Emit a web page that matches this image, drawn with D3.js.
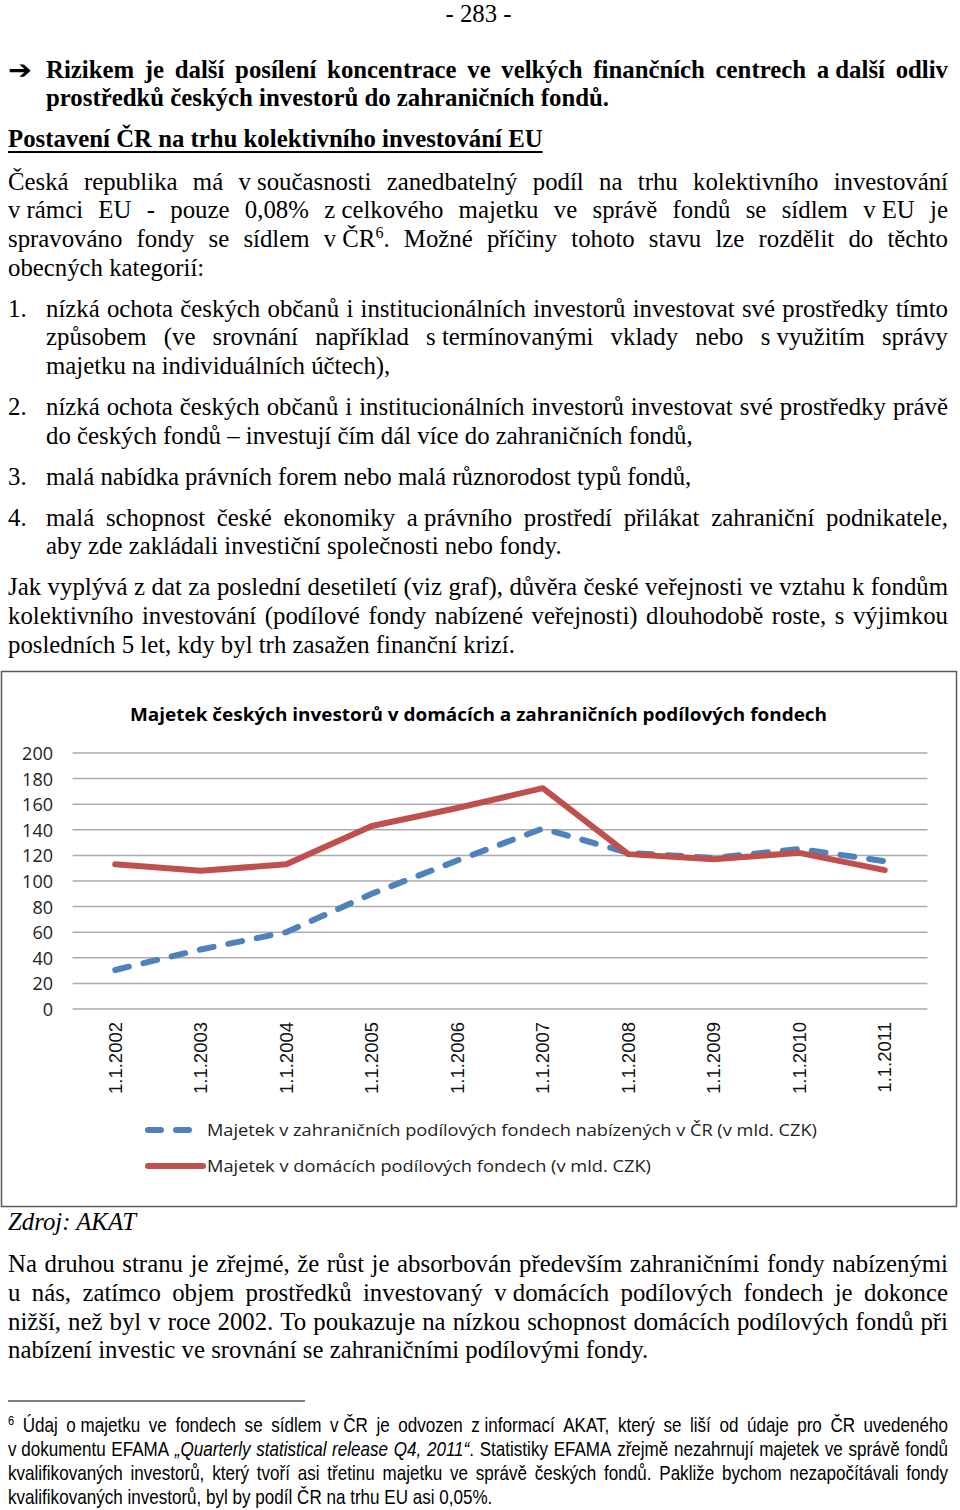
<!DOCTYPE html>
<html><head><meta charset="utf-8">
<script src="https://cdn.jsdelivr.net/npm/d3@7/dist/d3.min.js"></script>
<style>html,body{margin:0;padding:0;background:#fff;}svg{display:block;}</style>
</head><body>
<script>
// ---------- chart data ----------
const categories = ['1.1.2002','1.1.2003','1.1.2004','1.1.2005','1.1.2006','1.1.2007','1.1.2008','1.1.2009','1.1.2010','1.1.2011'];
const foreignFunds = [30.5, 46.5, 60, 90, 116, 141, 122, 118, 125, 115.5];
const domesticFunds = [113, 108, 113, 143, 157, 172.5, 121, 117, 122, 108.5];
const yTicks = [0, 20, 40, 60, 80, 100, 120, 140, 160, 180, 200];
const seriesNames = ['Majetek v zahraničních podílových fondech nabízených v ČR (v mld. CZK)', 'Majetek v domácích podílových fondech (v mld. CZK)'];
const chartTitle = 'Majetek českých investorů v domácích a zahraničních podílových fondech';

// ---------- page text ----------
const pageNumber = '- 283 -';
const boldLines = ['Rizikem je další posílení koncentrace ve velkých finančních centrech a~další odliv', 'prostředků českých investorů do zahraničních fondů.'];
const heading = 'Postavení ČR na trhu kolektivního investování EU';
const para1 = ['Česká republika má v~současnosti zanedbatelný podíl na trhu kolektivního investování',
  'v~rámci EU - pouze 0,08% z~celkového majetku ve správě fondů se sídlem v~EU je',
  'spravováno fondy se sídlem v~ČR^6^. Možné příčiny tohoto stavu lze rozdělit do těchto',
  'obecných kategorií:'];
const listItems = [
  ['nízká ochota českých občanů i institucionálních investorů investovat své prostředky tímto',
   'způsobem (ve srovnání například s~termínovanými vklady nebo s~využitím správy',
   'majetku na individuálních účtech),'],
  ['nízká ochota českých občanů i institucionálních investorů investovat své prostředky právě',
   'do českých fondů – investují čím dál více do zahraničních fondů,'],
  ['malá nabídka právních forem nebo malá různorodost typů fondů,'],
  ['malá schopnost české ekonomiky a~právního prostředí přilákat zahraniční podnikatele,',
   'aby zde zakládali investiční společnosti nebo fondy.']];
const para2 = ['Jak vyplývá z dat za poslední desetiletí (viz graf), důvěra české veřejnosti ve vztahu k fondům',
  'kolektivního investování (podílové fondy nabízené veřejnosti) dlouhodobě roste, s výjimkou',
  'posledních 5 let, kdy byl trh zasažen finanční krizí.'];
const sourceText = 'Zdroj: AKAT';
const para3 = ['Na druhou stranu je zřejmé, že růst je absorbován především zahraničními fondy nabízenými',
  'u nás, zatímco objem prostředků investovaný v~domácích podílových fondech je dokonce',
  'nižší, než byl v roce 2002. To poukazuje na nízkou schopnost domácích podílových fondů při',
  'nabízení investic ve srovnání se zahraničními podílovými fondy.'];
const footnote = ['^6^ Údaj o~majetku ve fondech se sídlem v~ČR je odvozen z~informací AKAT, který se liší od údaje pro ČR uvedeného',
  'v~dokumentu EFAMA *„Quarterly statistical release Q4, 2011“*. Statistiky EFAMA zřejmě nezahrnují majetek ve správě fondů',
  'kvalifikovaných investorů, který tvoří asi třetinu majetku ve správě českých fondů. Pakliže bychom nezapočítávali fondy',
  'kvalifikovaných investorů, byl by podíl ČR na trhu EU asi 0,05%.'];

const W = 960, H = 1510;
const svg = d3.select('body').append('svg').attr('width', W).attr('height', H);
svg.append('rect').attr('width', W).attr('height', H).attr('fill', '#fff');

const serif = {family: '"Liberation Serif","Times New Roman",serif', size: 24.8, weight: 'normal'};
const serifB = {family: '"Liberation Serif","Times New Roman",serif', size: 24.8, weight: 'bold'};
const narrow = {family: '"Liberation Sans",Arial,sans-serif', size: 20.8, weight: 'normal'};

function parseTokens(str) {
  let it = false, sup = false;
  return str.split(' ').map(tok => {
    const segs = []; let cur = '';
    for (const ch of tok) {
      if (ch === '*' || ch === '^') {
        if (cur) { segs.push({t: cur, it, sup}); cur = ''; }
        if (ch === '*') it = !it; else sup = !sup;
      } else cur += (ch === '~' ? '\u00a0' : ch);
    }
    if (cur) segs.push({t: cur, it, sup});
    return segs;
  });
}
function makeText(g, segs, st) {
  const t = g.append('text').attr('font-family', st.family).attr('font-size', st.size)
    .attr('font-weight', st.weight).attr('fill', '#000');
  let raised = false;
  segs.forEach(s => {
    const ts = t.append('tspan').text(s.t).attr('font-style', s.it ? 'italic' : null);
    if (s.sup) { ts.attr('font-size', st.size * 0.65); if (!raised) { ts.attr('dy', -st.size * 0.36); raised = true; } }
    else if (raised) { ts.attr('dy', st.size * 0.36); raised = false; }
  });
  return t;
}
const spaceCache = {};
function spaceW(g, st) {
  const k = st.family + st.size + st.weight;
  if (spaceCache[k] == null) {
    const a = makeText(g, [{t: 'n n'}], st), b = makeText(g, [{t: 'nn'}], st);
    spaceCache[k] = a.node().getComputedTextLength() - b.node().getComputedTextLength();
    a.remove(); b.remove();
  }
  return spaceCache[k];
}
function layLine(g, str, x0, x1, y, st, justify) {
  const toks = parseTokens(str);
  const els = toks.map(s => makeText(g, s, st));
  const ws = els.map(e => e.node().getComputedTextLength());
  const total = d3.sum(ws);
  const gap = (justify && toks.length > 1) ? (x1 - x0 - total) / (toks.length - 1) : spaceW(g, st);
  let x = x0;
  els.forEach((e, i) => { e.attr('x', x).attr('y', y); x += ws[i] + gap; });
  return x - gap;
}
function layPara(g, lines, x0, x1, y0, lh, st) {
  lines.forEach((l, i) => layLine(g, l, x0, x1, y0 + i * lh, st, i < lines.length - 1));
}

const tg = svg.append('g');
const LH = 28.7;
// page number
tg.append('text').attr('x', 478.5).attr('y', 22).attr('text-anchor', 'middle')
  .attr('font-family', serif.family).attr('font-size', serif.size).text(pageNumber);
// arrow + bold lines
tg.append('text').attr('x', 8).attr('y', 79).attr('font-family', '"DejaVu Sans",sans-serif')
  .attr('font-weight', 'bold').attr('font-size', 26).attr('textLength', 24)
  .attr('lengthAdjust', 'spacingAndGlyphs').text('➔');
layPara(tg, boldLines, 46, 948, 77.5, LH, serifB);
// heading
const hEnd = layLine(tg, heading, 8, 948, 146.7, serifB, false);
tg.append('rect').attr('x', 8).attr('y', 151).attr('width', hEnd - 8).attr('height', 2).attr('fill', '#000');
// para 1
layPara(tg, para1, 8, 948, 189.5, LH, serif);
// list
const listStarts = [316.6, 415, 484.7, 525.7];
listItems.forEach((item, i) => {
  tg.append('text').attr('x', 8).attr('y', listStarts[i]).attr('font-family', serif.family)
    .attr('font-size', serif.size).text((i + 1) + '.');
  layPara(tg, item, 46, 948, listStarts[i], LH, serif);
});
// para 2
layPara(tg, para2, 8, 948, 595.4, LH, serif);
// source
tg.append('text').attr('x', 8).attr('y', 1230).attr('font-family', serif.family)
  .attr('font-size', serif.size).attr('font-style', 'italic').text(sourceText);
// para 3
layPara(tg, para3, 8, 948, 1272.2, LH, serif);
// footnote rule
tg.append('rect').attr('x', 8).attr('y', 1400.5).attr('width', 297).attr('height', 1).attr('fill', '#000');
// footnote (narrow sans via horizontal scale)
const sx = 0.82;
const fg = tg.append('g').attr('transform', `scale(${sx},1)`);
layPara(fg, footnote, 8 / sx, 948 / sx, 1432, 24, narrow);

// ---------- chart ----------
const cg = svg.append('g');
cg.append('rect').attr('x', 1.5).attr('y', 671.5).attr('width', 955).attr('height', 535)
  .attr('fill', '#fff').attr('stroke', '#5a5a5a').attr('stroke-width', 1.5);

const x = d3.scaleBand().domain(categories).range([72.5, 927.5]);
const y = d3.scaleLinear().domain([0, 200]).range([1009, 753]);
const cx = d => x(d) + x.bandwidth() / 2;

cg.append('text').attr('x', 478.5).attr('y', 721).attr('text-anchor', 'middle')
  .attr('font-family', '"Open Sans",sans-serif').attr('font-weight', 'bold').attr('font-size', 17.5)
  .attr('fill', '#000').attr('textLength', 697).attr('lengthAdjust', 'spacingAndGlyphs').text(chartTitle);

// gridlines
cg.selectAll('line.grid').data(yTicks).join('line').attr('class', 'grid')
  .attr('x1', 72.5).attr('x2', 927.5).attr('y1', d => y(d)).attr('y2', d => y(d))
  .attr('stroke', '#ababab').attr('stroke-width', 1.5);

// y axis labels
const yAxis = d3.axisLeft(y).tickValues(yTicks).tickSize(0).tickPadding(0);
const ya = cg.append('g').attr('transform', 'translate(53,0)').call(yAxis);
ya.select('.domain').remove();
ya.selectAll('text').attr('font-family', '"Open Sans",sans-serif').attr('font-size', 18).attr('fill', '#222').attr('dy', '0.36em');

// x axis labels
const xAxis = d3.axisBottom(x).tickSize(0).tickPadding(0);
const xa = cg.append('g').attr('transform', 'translate(0,1022)').call(xAxis);
xa.select('.domain').remove();
xa.selectAll('text').attr('font-family', '"Liberation Sans",Arial,sans-serif').attr('font-size', 18.5)
  .attr('fill', '#111').attr('text-anchor', 'end').attr('transform', 'rotate(-90)')
  .attr('x', 0).attr('y', 0).attr('dy', '0.36em');

const line = d3.line().x((d, i) => cx(categories[i])).y(d => y(d));
const blue = '#4f81bd', red = '#c0504d';
cg.append('path').datum(foreignFunds).attr('d', line).attr('fill', 'none').attr('stroke', blue)
  .attr('stroke-width', 6).attr('stroke-dasharray', '14 15').attr('stroke-linecap', 'round').attr('stroke-linejoin', 'round');
cg.append('path').datum(domesticFunds).attr('d', line).attr('fill', 'none').attr('stroke', red)
  .attr('stroke-width', 6).attr('stroke-linejoin', 'round').attr('stroke-linecap', 'round');

// legend
const lg = cg.append('g');
lg.append('line').attr('x1', 148).attr('x2', 189).attr('y1', 1130).attr('y2', 1130).attr('stroke', blue)
  .attr('stroke-width', 6).attr('stroke-dasharray', '13 15').attr('stroke-linecap', 'round');
lg.append('line').attr('x1', 148).attr('x2', 203).attr('y1', 1166).attr('y2', 1166).attr('stroke', red)
  .attr('stroke-width', 6).attr('stroke-linecap', 'round');
const legW = [610, 444];
[1135.5, 1172].forEach((yy, i) => {
  lg.append('text').attr('x', 207).attr('y', yy).attr('font-family', '"Open Sans",sans-serif')
    .attr('font-size', 16.5).attr('fill', '#222').attr('textLength', legW[i]).attr('lengthAdjust', 'spacingAndGlyphs')
    .text(seriesNames[i]);
});
</script>
</body></html>
